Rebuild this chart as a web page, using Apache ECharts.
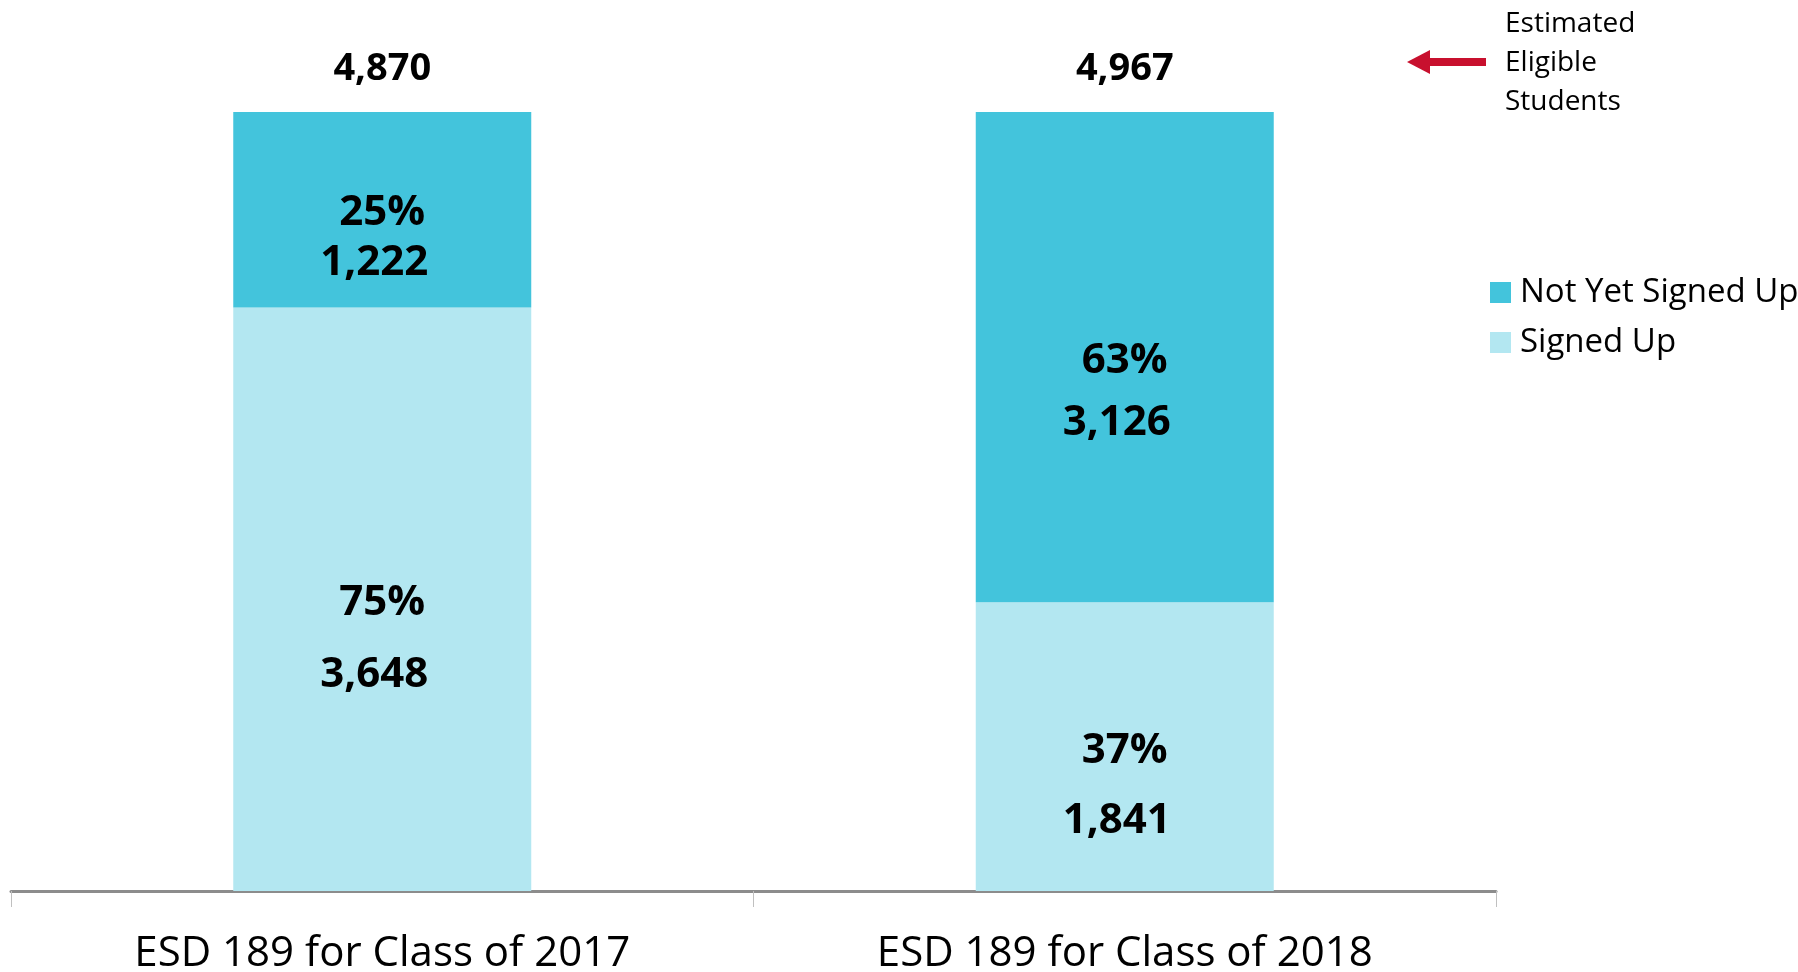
<!DOCTYPE html>
<html>
<head>
<meta charset="utf-8">
<script src="https://cdn.jsdelivr.net/npm/echarts@6/dist/echarts.min.js"></script>
<style>
  html, body { margin: 0; padding: 0; background: #fff; }
  #chart { width: 1798px; height: 972px; }
</style>
</head>
<body>
<div id="chart"></div>
<script>
  // data
  const categories = ['ESD 189 for Class of 2017', 'ESD 189 for Class of 2018'];
  const notYetSignedUp = [1222, 3126];
  const signedUp = [3648, 1841];
  const notYetPct = ['25%', '63%'];
  const signedPct = ['75%', '37%'];

  const totals = categories.map((c, i) => notYetSignedUp[i] + signedUp[i]);
  const fmt = n => n.toLocaleString('en-US');

  // label nudges (label block sits a bit below segment centre in the original)
  const notYetLabelStyle = [{ dy: 28, lh: 50 }, { dy: 35, lh: 62 }];
  const signedLabelStyle = [{ dy: 40, lh: 72 }, { dy: 39, lh: 70 }];

  const FONT = '"Open Sans", "DejaVu Sans", sans-serif';

  function segData(values, pcts, tweaks) {
    return values.map((v, i) => ({
      value: v / totals[i] * 100,
      label: {
        offset: [0, tweaks[i].dy],
        formatter: '{a|' + pcts[i] + '}\n{b|' + fmt(v) + '}',
        rich: {
          a: { fontSize: 42, fontWeight: 'bold', color: '#000', fontFamily: FONT, lineHeight: tweaks[i].lh },
          b: { fontSize: 42, fontWeight: 'bold', color: '#000', fontFamily: FONT, lineHeight: tweaks[i].lh, padding: [0, 16, 0, 0] }
        }
      }
    }));
  }

  const chart = echarts.init(document.getElementById('chart'));
  chart.setOption({
    animation: false,
    grid: { left: 11, right: 302, top: 112, bottom: 81, outerBoundsMode: 'none', containLabel: false },
    legend: {
      data: ['Not Yet Signed Up', 'Signed Up'],
      orient: 'vertical',
      left: 1485,
      top: 271,
      itemWidth: 21,
      itemHeight: 21,
      itemGap: 17,
      icon: 'rect',
      textStyle: { fontSize: 33, fontFamily: FONT, color: '#000', padding: [0, 0, 0, 4] }
    },
    xAxis: {
      type: 'category',
      data: categories,
      axisLine: { lineStyle: { color: '#8c8c8c', width: 3 } },
      axisTick: { show: true, length: 16, lineStyle: { color: '#c0c0c0', width: 1 } },
      axisLabel: { fontSize: 42, fontFamily: FONT, color: '#000', margin: 42 }
    },
    yAxis: { type: 'value', min: 0, max: 100, show: false, splitLine: { show: false } },
    series: [
      {
        name: 'Signed Up',
        type: 'bar',
        stack: 'all',
        barWidth: 298,
        itemStyle: { color: '#b3e7f1' },
        label: { show: true, position: 'inside' },
        data: segData(signedUp, signedPct, signedLabelStyle)
      },
      {
        name: 'Not Yet Signed Up',
        type: 'bar',
        stack: 'all',
        barWidth: 298,
        itemStyle: { color: '#43c4dc' },
        label: { show: true, position: 'inside' },
        data: segData(notYetSignedUp, notYetPct, notYetLabelStyle)
      },
      {
        name: 'total',
        type: 'scatter',
        symbolSize: 0,
        silent: true,
        itemStyle: { opacity: 1 },
        label: {
          show: true,
          position: 'top',
          distance: 24,
          fontSize: 38,
          fontWeight: 'bold',
          fontFamily: FONT,
          color: '#000',
          opacity: 1,
          formatter: p => fmt(totals[p.dataIndex])
        },
        data: totals.map(() => 100)
      }
    ],
    graphic: [
      {
        type: 'rect',
        shape: { x: 1428, y: 58, width: 58, height: 8 },
        style: { fill: '#c8102e' }
      },
      {
        type: 'polygon',
        shape: { points: [[1407, 62], [1430, 50], [1430, 74]] },
        style: { fill: '#c8102e' }
      },
      {
        type: 'text',
        left: 1505,
        top: 5,
        style: {
          text: 'Estimated\nEligible\nStudents',
          fontSize: 28,
          lineHeight: 39,
          fontFamily: FONT,
          fill: '#000'
        }
      }
    ]
  });
</script>
</body>
</html>
